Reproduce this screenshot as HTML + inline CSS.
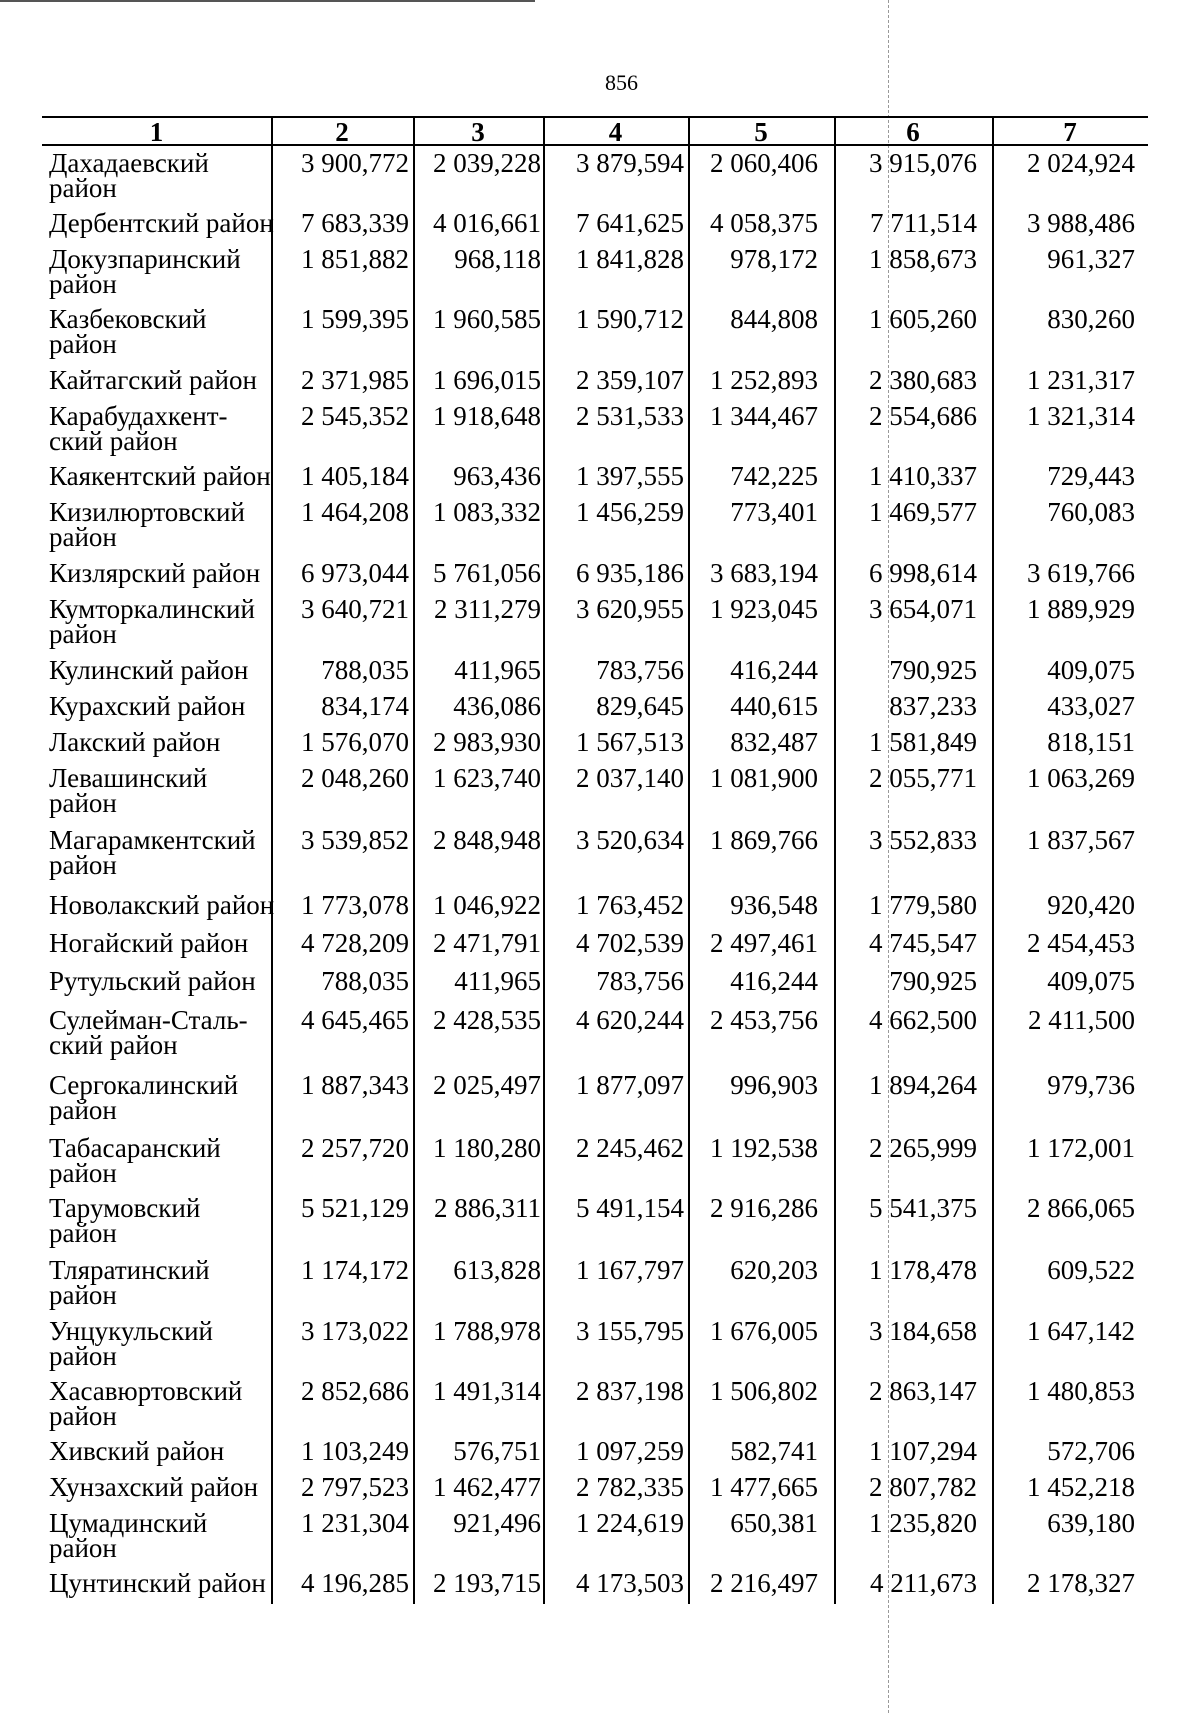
<!DOCTYPE html>
<html><head><meta charset="utf-8"><style>
html,body{margin:0;padding:0;background:#fff;}
body{width:1200px;height:1713px;position:relative;overflow:hidden;font-family:"Liberation Serif",serif;font-size:27px;color:#000;}
.r{position:absolute;left:0;width:1200px;height:50px;line-height:25px;}
.r div{position:absolute;top:0;white-space:nowrap;}
.l{left:49px;}
.a{right:791px}.b{right:659px}.c{right:516px}.d{right:382px}.e{right:223px}.f{right:65px}
.v{position:absolute;width:1.5px;background:#000;top:118px;height:1486px;}
.h{position:absolute;left:42px;width:1106px;background:#000;}
.hd{position:absolute;top:118px;line-height:28px;font-weight:bold;text-align:center;}
</style></head><body>
<div style="position:absolute;left:0;top:0;width:535px;height:2px;background:#555"></div>
<div style="position:absolute;left:888px;top:0;width:1px;height:1713px;border-left:1px dashed #999"></div>
<div style="position:absolute;left:605px;top:70px;font-size:22px">856</div>
<div class="h" style="top:116px;height:2px"></div>
<div class="h" style="top:144px;height:2px"></div>
<div class="v" style="left:271px"></div>
<div class="v" style="left:413px"></div>
<div class="v" style="left:543px"></div>
<div class="v" style="left:688px"></div>
<div class="v" style="left:834px"></div>
<div class="v" style="left:992px"></div>
<div class="hd" style="left:42px;width:229px">1</div>
<div class="hd" style="left:271px;width:142px">2</div>
<div class="hd" style="left:413px;width:130px">3</div>
<div class="hd" style="left:543px;width:145px">4</div>
<div class="hd" style="left:688px;width:146px">5</div>
<div class="hd" style="left:834px;width:158px">6</div>
<div class="hd" style="left:992px;width:156px">7</div>

<div class="r" style="top:151px"><div class="l">Дахадаевский<br>район</div><div class="a">3 900,772</div><div class="b">2 039,228</div><div class="c">3 879,594</div><div class="d">2 060,406</div><div class="e">3 915,076</div><div class="f">2 024,924</div></div>
<div class="r" style="top:211px"><div class="l">Дербентский район</div><div class="a">7 683,339</div><div class="b">4 016,661</div><div class="c">7 641,625</div><div class="d">4 058,375</div><div class="e">7 711,514</div><div class="f">3 988,486</div></div>
<div class="r" style="top:247px"><div class="l">Докузпаринский<br>район</div><div class="a">1 851,882</div><div class="b">968,118</div><div class="c">1 841,828</div><div class="d">978,172</div><div class="e">1 858,673</div><div class="f">961,327</div></div>
<div class="r" style="top:307px"><div class="l">Казбековский<br>район</div><div class="a">1 599,395</div><div class="b">1 960,585</div><div class="c">1 590,712</div><div class="d">844,808</div><div class="e">1 605,260</div><div class="f">830,260</div></div>
<div class="r" style="top:368px"><div class="l">Кайтагский район</div><div class="a">2 371,985</div><div class="b">1 696,015</div><div class="c">2 359,107</div><div class="d">1 252,893</div><div class="e">2 380,683</div><div class="f">1 231,317</div></div>
<div class="r" style="top:404px"><div class="l">Карабудахкент-<br>ский район</div><div class="a">2 545,352</div><div class="b">1 918,648</div><div class="c">2 531,533</div><div class="d">1 344,467</div><div class="e">2 554,686</div><div class="f">1 321,314</div></div>
<div class="r" style="top:464px"><div class="l">Каякентский район</div><div class="a">1 405,184</div><div class="b">963,436</div><div class="c">1 397,555</div><div class="d">742,225</div><div class="e">1 410,337</div><div class="f">729,443</div></div>
<div class="r" style="top:500px"><div class="l">Кизилюртовский<br>район</div><div class="a">1 464,208</div><div class="b">1 083,332</div><div class="c">1 456,259</div><div class="d">773,401</div><div class="e">1 469,577</div><div class="f">760,083</div></div>
<div class="r" style="top:561px"><div class="l">Кизлярский район</div><div class="a">6 973,044</div><div class="b">5 761,056</div><div class="c">6 935,186</div><div class="d">3 683,194</div><div class="e">6 998,614</div><div class="f">3 619,766</div></div>
<div class="r" style="top:597px"><div class="l">Кумторкалинский<br>район</div><div class="a">3 640,721</div><div class="b">2 311,279</div><div class="c">3 620,955</div><div class="d">1 923,045</div><div class="e">3 654,071</div><div class="f">1 889,929</div></div>
<div class="r" style="top:658px"><div class="l">Кулинский район</div><div class="a">788,035</div><div class="b">411,965</div><div class="c">783,756</div><div class="d">416,244</div><div class="e">790,925</div><div class="f">409,075</div></div>
<div class="r" style="top:694px"><div class="l">Курахский район</div><div class="a">834,174</div><div class="b">436,086</div><div class="c">829,645</div><div class="d">440,615</div><div class="e">837,233</div><div class="f">433,027</div></div>
<div class="r" style="top:730px"><div class="l">Лакский район</div><div class="a">1 576,070</div><div class="b">2 983,930</div><div class="c">1 567,513</div><div class="d">832,487</div><div class="e">1 581,849</div><div class="f">818,151</div></div>
<div class="r" style="top:766px"><div class="l">Левашинский<br>район</div><div class="a">2 048,260</div><div class="b">1 623,740</div><div class="c">2 037,140</div><div class="d">1 081,900</div><div class="e">2 055,771</div><div class="f">1 063,269</div></div>
<div class="r" style="top:828px"><div class="l">Магарамкентский<br>район</div><div class="a">3 539,852</div><div class="b">2 848,948</div><div class="c">3 520,634</div><div class="d">1 869,766</div><div class="e">3 552,833</div><div class="f">1 837,567</div></div>
<div class="r" style="top:893px"><div class="l">Новолакский район</div><div class="a">1 773,078</div><div class="b">1 046,922</div><div class="c">1 763,452</div><div class="d">936,548</div><div class="e">1 779,580</div><div class="f">920,420</div></div>
<div class="r" style="top:931px"><div class="l">Ногайский район</div><div class="a">4 728,209</div><div class="b">2 471,791</div><div class="c">4 702,539</div><div class="d">2 497,461</div><div class="e">4 745,547</div><div class="f">2 454,453</div></div>
<div class="r" style="top:969px"><div class="l">Рутульский район</div><div class="a">788,035</div><div class="b">411,965</div><div class="c">783,756</div><div class="d">416,244</div><div class="e">790,925</div><div class="f">409,075</div></div>
<div class="r" style="top:1008px"><div class="l">Сулейман-Сталь-<br>ский район</div><div class="a">4 645,465</div><div class="b">2 428,535</div><div class="c">4 620,244</div><div class="d">2 453,756</div><div class="e">4 662,500</div><div class="f">2 411,500</div></div>
<div class="r" style="top:1073px"><div class="l">Сергокалинский<br>район</div><div class="a">1 887,343</div><div class="b">2 025,497</div><div class="c">1 877,097</div><div class="d">996,903</div><div class="e">1 894,264</div><div class="f">979,736</div></div>
<div class="r" style="top:1136px"><div class="l">Табасаранский<br>район</div><div class="a">2 257,720</div><div class="b">1 180,280</div><div class="c">2 245,462</div><div class="d">1 192,538</div><div class="e">2 265,999</div><div class="f">1 172,001</div></div>
<div class="r" style="top:1196px"><div class="l">Тарумовский<br>район</div><div class="a">5 521,129</div><div class="b">2 886,311</div><div class="c">5 491,154</div><div class="d">2 916,286</div><div class="e">5 541,375</div><div class="f">2 866,065</div></div>
<div class="r" style="top:1258px"><div class="l">Тляратинский<br>район</div><div class="a">1 174,172</div><div class="b">613,828</div><div class="c">1 167,797</div><div class="d">620,203</div><div class="e">1 178,478</div><div class="f">609,522</div></div>
<div class="r" style="top:1319px"><div class="l">Унцукульский<br>район</div><div class="a">3 173,022</div><div class="b">1 788,978</div><div class="c">3 155,795</div><div class="d">1 676,005</div><div class="e">3 184,658</div><div class="f">1 647,142</div></div>
<div class="r" style="top:1379px"><div class="l">Хасавюртовский<br>район</div><div class="a">2 852,686</div><div class="b">1 491,314</div><div class="c">2 837,198</div><div class="d">1 506,802</div><div class="e">2 863,147</div><div class="f">1 480,853</div></div>
<div class="r" style="top:1439px"><div class="l">Хивский район</div><div class="a">1 103,249</div><div class="b">576,751</div><div class="c">1 097,259</div><div class="d">582,741</div><div class="e">1 107,294</div><div class="f">572,706</div></div>
<div class="r" style="top:1475px"><div class="l">Хунзахский район</div><div class="a">2 797,523</div><div class="b">1 462,477</div><div class="c">2 782,335</div><div class="d">1 477,665</div><div class="e">2 807,782</div><div class="f">1 452,218</div></div>
<div class="r" style="top:1511px"><div class="l">Цумадинский<br>район</div><div class="a">1 231,304</div><div class="b">921,496</div><div class="c">1 224,619</div><div class="d">650,381</div><div class="e">1 235,820</div><div class="f">639,180</div></div>
<div class="r" style="top:1571px"><div class="l">Цунтинский район</div><div class="a">4 196,285</div><div class="b">2 193,715</div><div class="c">4 173,503</div><div class="d">2 216,497</div><div class="e">4 211,673</div><div class="f">2 178,327</div></div>
</body></html>
